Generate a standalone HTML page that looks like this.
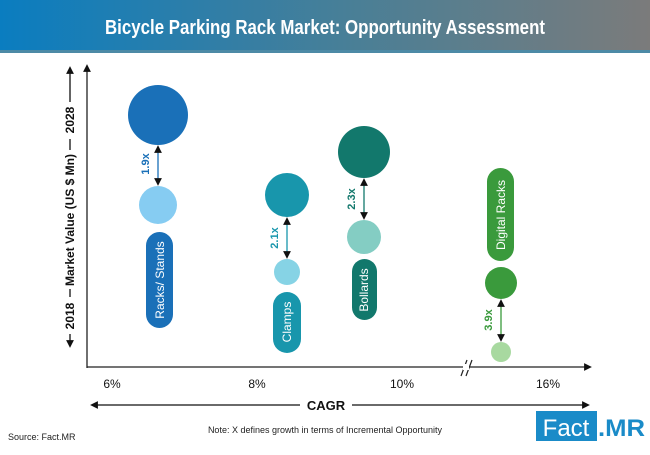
<!DOCTYPE html>
<html><head><meta charset="utf-8"><style>
body{margin:0;width:650px;height:450px;overflow:hidden;background:#fff;font-family:"Liberation Sans",sans-serif}
</style></head><body>
<svg width="650" height="450" viewBox="0 0 650 450" xmlns="http://www.w3.org/2000/svg" font-family="Liberation Sans, sans-serif">
<defs>
<linearGradient id="g" x1="0" x2="1"><stop offset="0" stop-color="#0a7dc0"/><stop offset="0.55" stop-color="#4a7f96"/><stop offset="1" stop-color="#7b7b7b"/></linearGradient>
<marker id="ak" viewBox="0 0 10 10" refX="5" refY="5" markerWidth="6" markerHeight="6" orient="auto-start-reverse"><path d="M0,0L10,5L0,10z" fill="#111"/></marker>
</defs>
<rect x="0" y="0" width="650" height="50" fill="url(#g)"/>
<rect x="0" y="50" width="650" height="3" fill="#4d8aa6"/>
<text x="325" y="34" text-anchor="middle" fill="#fff" font-size="20" font-weight="bold" textLength="440" lengthAdjust="spacingAndGlyphs">Bicycle Parking Rack Market: Opportunity Assessment</text>
<!-- axes -->
<line x1="87" y1="368" x2="87" y2="68" stroke="#222" stroke-width="1.3" marker-end="url(#ak)"/>
<line x1="87" y1="367" x2="588" y2="367" stroke="#222" stroke-width="1.3" marker-end="url(#ak)"/>
<line x1="461" y1="376" x2="467" y2="360" stroke="#222" stroke-width="1.2"/>
<line x1="466" y1="376" x2="472" y2="360" stroke="#222" stroke-width="1.2"/>
<rect x="463" y="364" width="6" height="6" fill="#fff"/>
<!-- y label -->
<line x1="70" y1="102" x2="70" y2="70" stroke="#111" stroke-width="1.3" marker-end="url(#ak)"/>
<line x1="70" y1="334" x2="70" y2="344" stroke="#111" stroke-width="1.3" marker-end="url(#ak)"/>
<line x1="70" y1="139" x2="70" y2="150" stroke="#111" stroke-width="1.3"/>
<line x1="70" y1="289" x2="70" y2="297" stroke="#111" stroke-width="1.3"/>
<text transform="translate(74,120) rotate(-90)" text-anchor="middle" font-size="12" font-weight="bold" fill="#111">2028</text>
<text transform="translate(74,220) rotate(-90)" text-anchor="middle" font-size="12" font-weight="bold" fill="#111" textLength="132" lengthAdjust="spacingAndGlyphs">Market Value (US $ Mn)</text>
<text transform="translate(74,316) rotate(-90)" text-anchor="middle" font-size="12" font-weight="bold" fill="#111">2018</text>
<!-- x ticks -->
<g font-size="12" fill="#111" text-anchor="middle">
<text x="112" y="388">6%</text><text x="257" y="388">8%</text><text x="402" y="388">10%</text><text x="548" y="388">16%</text>
</g>
<line x1="300" y1="405" x2="94" y2="405" stroke="#111" stroke-width="1.3" marker-end="url(#ak)"/>
<line x1="352" y1="405" x2="586" y2="405" stroke="#111" stroke-width="1.3" marker-end="url(#ak)"/>
<text x="326" y="410" text-anchor="middle" font-size="13" font-weight="bold" fill="#111">CAGR</text>
<text x="8" y="440" font-size="9" fill="#222">Source: Fact.MR</text>
<text x="325" y="433" text-anchor="middle" font-size="9" fill="#222">Note: X defines growth in terms of Incremental Opportunity</text>
<rect x="536" y="411" width="61" height="30" fill="#1a8bc8"/>
<text x="566" y="436" text-anchor="middle" font-size="24" fill="#fff">Fact</text>
<text x="598" y="436" font-size="24" font-weight="bold" fill="#1a8bc8" textLength="47" lengthAdjust="spacingAndGlyphs">.MR</text>
<!-- Racks -->
<circle cx="158" cy="115" r="30" fill="#1a70b8"/>
<circle cx="158" cy="205" r="19" fill="#86ccf2"/>
<line x1="158" y1="149" x2="158" y2="182" stroke="#1a70b8" stroke-width="1.3" marker-start="url(#ak)" marker-end="url(#ak)"/>
<text transform="translate(149,164) rotate(-90)" text-anchor="middle" font-size="11" font-weight="bold" fill="#1a70b8">1.9x</text>
<rect x="146" y="232" width="27" height="96" rx="13.5" fill="#1a70b8"/>
<text transform="translate(164,280) rotate(-90)" text-anchor="middle" font-size="12" fill="#fff">Racks/ Stands</text>
<!-- Clamps -->
<circle cx="287" cy="195" r="22" fill="#1896ac"/>
<circle cx="287" cy="272" r="13" fill="#86d3e5"/>
<line x1="287" y1="221" x2="287" y2="255" stroke="#1896ac" stroke-width="1.3" marker-start="url(#ak)" marker-end="url(#ak)"/>
<text transform="translate(278,238) rotate(-90)" text-anchor="middle" font-size="11" font-weight="bold" fill="#1896ac">2.1x</text>
<rect x="273" y="292" width="28" height="61" rx="14" fill="#1896ac"/>
<text transform="translate(291,322) rotate(-90)" text-anchor="middle" font-size="12" fill="#fff">Clamps</text>
<!-- Bollards -->
<circle cx="364" cy="152" r="26" fill="#12786c"/>
<circle cx="364" cy="237" r="17" fill="#84cdc3"/>
<line x1="364" y1="182" x2="364" y2="216" stroke="#12786c" stroke-width="1.3" marker-start="url(#ak)" marker-end="url(#ak)"/>
<text transform="translate(355,199) rotate(-90)" text-anchor="middle" font-size="11" font-weight="bold" fill="#12786c">2.3x</text>
<rect x="352" y="259" width="25" height="61" rx="12.5" fill="#12786c"/>
<text transform="translate(368,290) rotate(-90)" text-anchor="middle" font-size="12" fill="#fff">Bollards</text>
<!-- Digital -->
<rect x="487" y="168" width="27" height="93" rx="13.5" fill="#3a9a3c"/>
<text transform="translate(505,215) rotate(-90)" text-anchor="middle" font-size="12" fill="#fff">Digital Racks</text>
<circle cx="501" cy="283" r="16" fill="#3a9a3c"/>
<circle cx="501" cy="352" r="10" fill="#a8d9a0"/>
<line x1="501" y1="303" x2="501" y2="338" stroke="#3a9a3c" stroke-width="1.3" marker-start="url(#ak)" marker-end="url(#ak)"/>
<text transform="translate(492,320) rotate(-90)" text-anchor="middle" font-size="11" font-weight="bold" fill="#3a9a3c">3.9x</text>
</svg>
</body></html>
